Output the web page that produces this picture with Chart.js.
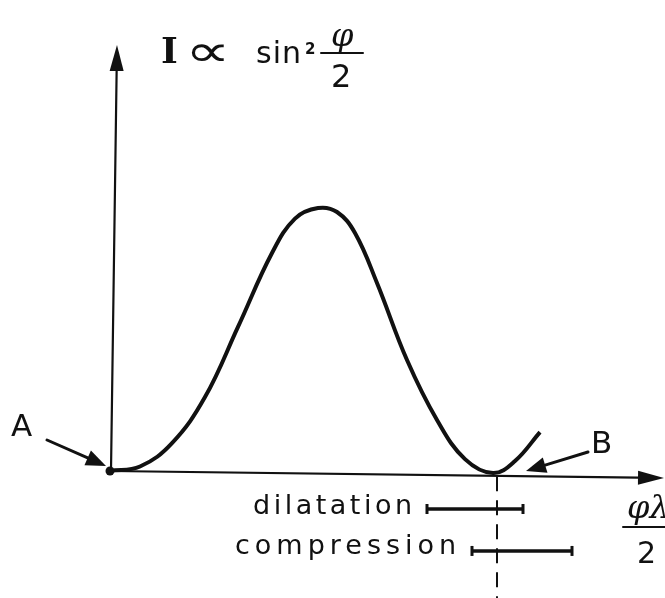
<!DOCTYPE html>
<html>
<head>
<meta charset="utf-8">
<script src="https://cdn.jsdelivr.net/npm/chart.js@4"></script>
<style>
  html, body { margin: 0; padding: 0; background: #fff; }
  canvas { display: block; }
</style>
</head>
<body>
<canvas id="myChart" width="665" height="598"></canvas>
<script>
// phase axis (arbitrary units) and intensity I ~ sin^2(phi/2), peak = 1
const curveX = [0, 0.30, 0.62, 0.95, 1.28, 1.62, 1.85, 2.08, 2.27, 2.45, 2.67, 2.97, 3.27, 3.55, 3.83, 4.05, 4.30];
const curveY = [0, 0.017, 0.106, 0.281, 0.548, 0.829, 0.96, 1.0, 0.985, 0.905, 0.715, 0.422, 0.194, 0.045, -0.008, 0.038, 0.148];
// working point B and the shift ranges
const pointB = 3.87;
const dilatation = [3.17, 4.13];
const compression = [3.62, 4.62];
const rangeLabels = ['dilatation', 'compression'];

const X_MIN = -0.1, X_MAX = 5.47, Y_MIN = -0.4525, Y_MAX = 1.639;
const ROW_Y = [-0.1445, -0.304];

const toPts = (xs, ys) => xs.map((x, i) => ({ x: x, y: ys[i] }));

function arrow(ctx, x1, y1, x2, y2, len, half, lw) {
    const a = Math.atan2(y2 - y1, x2 - x1);
    const bx = x2 - Math.cos(a) * len, by = y2 - Math.sin(a) * len;
    ctx.lineWidth = lw;
    ctx.beginPath();
    ctx.moveTo(x1, y1);
    ctx.lineTo(bx, by);
    ctx.stroke();
    ctx.beginPath();
    ctx.moveTo(x2, y2);
    ctx.lineTo(bx + Math.sin(a) * half, by - Math.cos(a) * half);
    ctx.lineTo(bx - Math.sin(a) * half, by + Math.cos(a) * half);
    ctx.closePath();
    ctx.fill();
}

const sketch = {
    id: 'sketch',
    afterDatasetsDraw(chart) {
        const ctx = chart.ctx;
        const xs = chart.scales.x, ys = chart.scales.y;
        const ox = xs.getPixelForValue(0), oy = ys.getPixelForValue(0);
        ctx.save();
        ctx.strokeStyle = '#111';
        ctx.fillStyle = '#111';
        ctx.lineCap = 'round';

        // axes
        arrow(ctx, ox + 1, oy, ox + 7, 45, 26, 7, 2.2);
        arrow(ctx, ox, oy, 664, oy + 7, 26, 7, 2.2);
        ctx.beginPath();
        ctx.arc(ox, oy, 4.5, 0, Math.PI * 2);
        ctx.fill();

        // A and B pointers
        arrow(ctx, 47, 440, 106, 466, 20, 8, 3);
        arrow(ctx, 588, 452, 526, 471, 20, 8, 3);
        ctx.textBaseline = 'alphabetic';
        ctx.font = '31px "DejaVu Sans"';
        ctx.fillText('A', 11, 436);
        ctx.fillText('B', 591, 453);

        // y-axis title
        ctx.font = 'bold 36px "DejaVu Serif"';
        ctx.fillText('I', 161, 63);
        ctx.save();
        ctx.translate(185, 66);
        ctx.scale(1.45, 1);
        ctx.font = '44px "DejaVu Sans"';
        ctx.fillText('\u221D', 0, 0);
        ctx.restore();
        ctx.font = '30px "DejaVu Sans"';
        ctx.letterSpacing = '1px';
        ctx.fillText('sin', 256, 63);
        ctx.letterSpacing = '0px';
        ctx.font = 'bold 15px "DejaVu Sans"';
        ctx.fillText('2', 305, 54);
        ctx.font = 'italic 32px "DejaVu Serif"';
        ctx.fillText('\u03C6', 331, 46);
        ctx.lineWidth = 2;
        ctx.beginPath();
        ctx.moveTo(321, 53); ctx.lineTo(363, 53); ctx.stroke();
        ctx.font = '32px "DejaVu Sans"';
        ctx.fillText('2', 331, 87);

        // x-axis title
        ctx.font = 'italic 32px "DejaVu Serif"';
        ctx.fillText('\u03C6\u03BB', 627, 518);
        ctx.beginPath();
        ctx.moveTo(623, 527); ctx.lineTo(665, 527); ctx.stroke();
        ctx.font = '30px "DejaVu Sans"';
        ctx.fillText('2', 637, 563);

        // range labels
        ctx.font = '27px "DejaVu Sans"';
        ctx.letterSpacing = '3.5px';
        ctx.fillText(rangeLabels[0], 253, ys.getPixelForValue(ROW_Y[0]) + 5);
        ctx.letterSpacing = '5px';
        ctx.fillText(rangeLabels[1], 235, ys.getPixelForValue(ROW_Y[1]) + 3);
        ctx.restore();
    }
};

const ctx = document.getElementById('myChart').getContext('2d');
let myChart = new Chart(ctx, {
    type: 'scatter',
    data: {
        datasets: [{
            data: toPts(curveX, curveY),
            showLine: true,
            borderColor: '#111',
            borderWidth: 4,
            pointRadius: 0,
            tension: 0.4,
            clip: false
        }, {
            data: [{ x: pointB, y: -0.02 }, { x: pointB, y: -0.483 }],
            showLine: true,
            borderColor: '#111',
            borderWidth: 2,
            borderDash: [15, 9],
            pointRadius: 0,
            clip: false
        }, {
            data: dilatation.map(x => ({ x: x, y: ROW_Y[0] })),
            showLine: true,
            borderColor: '#111',
            borderWidth: 3.5,
            pointStyle: 'line',
            rotation: 90,
            pointRadius: 5,
            pointBorderWidth: 3,
            clip: false
        }, {
            data: compression.map(x => ({ x: x, y: ROW_Y[1] })),
            showLine: true,
            borderColor: '#111',
            borderWidth: 3.5,
            pointStyle: 'line',
            rotation: 90,
            pointRadius: 5,
            pointBorderWidth: 3,
            clip: false
        }]
    },
    options: {
        responsive: false,
        animation: false,
        layout: { padding: { left: 100, right: 0, top: 40, bottom: 0 } },
        scales: {
            x: { type: 'linear', min: X_MIN, max: X_MAX, display: false },
            y: { type: 'linear', min: Y_MIN, max: Y_MAX, display: false }
        },
        plugins: {
            legend: { display: false },
            tooltip: { enabled: false }
        }
    },
    plugins: [sketch]
});
</script>
</body>
</html>
